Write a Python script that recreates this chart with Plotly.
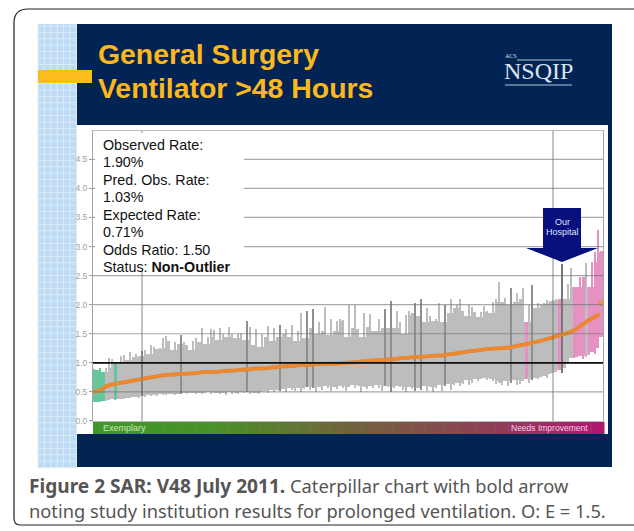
import plotly.graph_objects as go

W, H = 634, 531

upper = [
 .90,.88,.92,.85,.92,1.08,1.06,1.00,1.00,1.12,
 1.14,1.05,1.18,1.10,1.16,1.12,1.20,1.22,1.15,1.30,
 1.28,1.24,1.25,1.42,1.46,1.38,1.22,1.35,1.33,1.48,
 1.36,1.30,1.22,1.38,1.42,1.35,1.60,1.32,1.44,1.58,
 1.56,1.40,1.60,1.50,1.45,1.62,1.50,1.42,1.50,1.52,
 1.40,1.72,1.62,1.30,1.58,1.28,1.50,1.45,1.63,1.38,
 1.60,1.45,1.65,1.50,1.58,1.45,1.65,1.38,1.55,1.85,
 1.42,1.90,1.60,1.92,1.50,1.70,1.55,1.96,1.48,1.75,
 1.55,1.72,1.76,1.74,1.45,2.00,1.60,2.00,1.58,1.45,
 1.85,1.62,1.84,1.55,1.55,1.75,1.60,1.92,1.60,2.06,
 1.60,1.90,1.70,1.50,1.82,1.90,1.85,2.03,1.80,2.10,
 1.70,1.94,1.80,1.72,1.75,2.03,1.70,2.00,1.85,2.10,
 1.95,2.00,2.10,1.90,1.80,2.00,1.96,1.88,1.78,1.88,
 1.98,1.90,1.85,2.05,2.10,2.39,2.05,2.12,2.00,2.29,
 2.05,2.20,2.10,2.28,1.70,2.00,2.34,1.95,2.03,2.00,
 2.03,2.08,2.06,2.08,2.10,2.10,2.70,2.10,2.36,2.63,
 2.30,2.30,2.48,2.48,2.72,2.30,2.74,2.90,3.28,2.92,
]
lower = [
 .33,.32,.33,.34,.35,.36,.37,.36,.37,.38,
 .38,.40,.39,.41,.42,.40,.43,.41,.44,.43,
 .44,.43,.46,.45,.44,.46,.47,.45,.46,.47,
 .48,.46,.48,.49,.47,.48,.46,.48,.50,.47,
 .48,.49,.47,.48,.45,.50,.46,.49,.47,.50,
 .48,.50,.47,.49,.48,.46,.50,.52,.48,.53,
 .50,.54,.52,.55,.50,.56,.54,.52,.57,.50,
 .55,.58,.53,.56,.50,.58,.54,.60,.56,.52,
 .58,.55,.60,.56,.52,.58,.62,.56,.60,.50,
 .58,.55,.60,.57,.62,.56,.52,.60,.58,.50,
 .56,.60,.58,.54,.50,.58,.55,.52,.56,.53,
 .60,.52,.58,.50,.56,.62,.52,.60,.64,.53,
 .62,.66,.60,.64,.70,.62,.66,.72,.68,.72,
 .74,.70,.72,.68,.64,.66,.62,.68,.60,.66,
 .70,.62,.64,.68,.72,.66,.70,.74,.72,.76,
 .78,.74,.80,.82,.85,.88,.82,.92,1.00,1.08,
 1.08,1.10,1.12,1.06,1.10,1.14,1.18,1.16,1.25,1.45,
]
observed = [
 .50,.51,.53,.57,.60,.62,.63,.64,.65,.66,
 .67,.68,.69,.70,.71,.72,.73,.74,.75,.75,
 .76,.77,.78,.79,.79,.80,.80,.80,.81,.81,
 .81,.82,.82,.82,.83,.83,.84,.84,.84,.85,
 .85,.85,.85,.86,.86,.86,.87,.87,.88,.88,
 .88,.89,.89,.90,.90,.90,.90,.91,.91,.92,
 .92,.93,.93,.94,.94,.95,.95,.95,.96,.96,
 .96,.97,.97,.97,.98,.98,.98,.98,.98,.98,
 .98,.99,.99,1.00,1.00,1.01,1.01,1.01,1.02,1.02,
 1.03,1.03,1.04,1.04,1.04,1.05,1.05,1.05,1.06,1.06,
 1.07,1.07,1.08,1.08,1.09,1.09,1.10,1.10,1.10,1.11,
 1.11,1.11,1.12,1.12,1.12,1.13,1.13,1.14,1.14,1.15,
 1.16,1.17,1.17,1.18,1.19,1.20,1.20,1.21,1.22,1.23,
 1.23,1.24,1.24,1.25,1.25,1.25,1.26,1.26,1.26,1.27,
 1.28,1.29,1.30,1.31,1.32,1.33,1.34,1.36,1.37,1.38,
 1.40,1.41,1.43,1.44,1.46,1.47,1.49,1.50,1.52,1.54,
 1.56,1.60,1.63,1.67,1.71,1.74,1.77,1.80,1.83,None,
]
hospital = list(range(len(upper)))
top_outlier_hospital = [169]
top_outlier_value = [2.03]

green_bars = [0, 1, 2, 3, 7]
pink_bars = [144, 155, 160, 161, 162, 163, 165, 166, 167, 168, 169]
dark_bars = [16, 29, 51, 62, 71, 73, 97, 99, 107, 109, 117, 139, 146, 156]

ytick_vals = [0, .5, 1, 1.5, 2, 2.5, 3, 3.5, 4, 4.5]
vertical_grid_hospitals = [16.33, 153.33]

title_lines = ["General Surgery", "Ventilator >48 Hours"]
stat_lines = ["Observed Rate:", "1.90%", "Pred. Obs. Rate:", "1.03%", "Expected Rate:",
              "0.71%", "Odds Ratio: 1.50", "Status: <b>Non-Outlier</b>"]
caption_lines = ['<b><span style="font-size:19.1px">Figure 2 SAR: V48 July 2011.</span></b> Caterpillar chart with bold arrow',
                 "noting study institution results for prolonged ventilation. O: E = 1.5."]

# ---- pixel helpers for page decoration
px = lambda v: v / W
py = lambda v: 1 - v * 1.0095 / H
NAVY = "#012454"
shapes, ann = [], []

def rect(x0, y0, x1, y1, color, layer="below"):
    shapes.append(dict(type="rect", xref="paper", yref="paper", x0=px(x0), x1=px(x1),
                       y0=py(y0), y1=py(y1), fillcolor=color, line_width=0, layer=layer))

def seg(x0, y0, x1, y1, color, w, layer="below"):
    shapes.append(dict(type="line", xref="paper", yref="paper", x0=px(x0), x1=px(x1),
                       y0=py(y0), y1=py(y1), line=dict(color=color, width=w), layer=layer))

def text(x, y, s, size, color, anchor="left", family="Liberation Sans"):
    ann.append(dict(xref="paper", yref="paper", x=px(x), y=py(y), text=s, showarrow=False,
                    xanchor=anchor, yanchor="middle", align=anchor, borderpad=0, borderwidth=0,
                    font=dict(size=size, color=color, family=family)))

# slide backgrounds
rect(38, 24, 77, 467, "#bddcf4")
for i in range(7):
    seg(38 + i * 6.4, 24, 38 + i * 6.4, 467, "#dcebf8", 1)
for i in range(70):
    seg(38, 26 + i * 6.4, 77, 26 + i * 6.4, "#dcebf8", 1)
rect(77, 24, 612, 467, NAVY)
rect(77, 125, 608, 434, "white")
rect(38, 70, 92, 83, "#fbbd1e")

# gradient band
stops = [(0, (62, 152, 40)), (.22, (72, 146, 40)), (.5, (112, 100, 58)), (.8, (145, 60, 90)), (1, (176, 22, 112))]
N_BAND = 80
for i in range(N_BAND):
    t = i / (N_BAND - 1)
    for (a, ca), (b, cb) in zip(stops, stops[1:]):
        if a <= t <= b:
            f = (t - a) / (b - a)
            c = [round(ca[k] + (cb[k] - ca[k]) * f) for k in range(3)]
            break
    x0 = 93 + i * 511 / N_BAND
    rect(x0, 422, x0 + 511 / N_BAND + .5, 434, f"rgb({c[0]},{c[1]},{c[2]})")
text(103, 428, "Exemplary", 9, "#c9e8b8")
text(588, 428, "Needs Improvement", 8.5, "#f3cfe2", "right")

# page card border
shapes.append(dict(type="path", xref="paper", yref="paper",
    path=f"M {px(640)} {py(9)} L {px(28)} {py(9)} Q {px(14)} {py(9)} {px(14)} {py(23)} "
         f"L {px(14)} {py(518)} Q {px(14)} {py(525)} {px(20)} {py(525)} L {px(640)} {py(525)}",
    line=dict(color="#222222", width=1.2), layer="below"))

# grid drawn through data coordinates
grid = "rgba(110,110,110,.6)"
for v in ytick_vals[1:]:
    shapes.append(dict(type="line", xref="x", yref="y", x0=0, x1=170, y0=v, y1=v,
                       line=dict(color=grid, width=1.2), layer="above"))
for v in vertical_grid_hospitals:
    shapes.append(dict(type="line", xref="x", yref="y domain", x0=v, x1=v, y0=0, y1=1,
                       line=dict(color="rgba(110,110,110,.7)", width=1.2), layer="above"))
shapes.append(dict(type="line", xref="x", yref="y", x0=0, x1=170, y0=1, y1=1,
                   line=dict(color="#111111", width=1.8), layer="above"))

# bars: solid body to neighbours' common range, then thin spike for each hospital's interval
colors = []
for i in hospital:
    if i in pink_bars:
        c = "#e592c3"
    elif i in green_bars:
        c = "#66c79c"
    elif i in dark_bars:
        c = "#8f8f8f"
    else:
        c = "#bdbdbd"
    colors.append(c)
colors[156] = "#777777"
body_top = [min(upper[max(i - 1, 0):i + 2]) for i in hospital]
body_bot = [max(lower[max(i - 1, 0):i + 2]) for i in hospital]
body_colors = ["#bdbdbd" if c in ("#8f8f8f", "#777777") else c for c in colors]
xs = [i + .5 for i in hospital]
fig = go.Figure()
fig.add_bar(x=xs, y=[u - l for u, l in zip(body_top, body_bot)], base=body_bot,
            width=1.02, marker=dict(color=body_colors, line_width=0), showlegend=False)
fig.add_bar(x=xs, y=[u - l for u, l in zip(upper, lower)], base=lower,
            width=.5, marker=dict(color=colors, line_width=0), showlegend=False)
fig.add_scatter(x=xs, y=observed, mode="lines+markers",
                line=dict(color="#e07f36", width=3.8), marker=dict(size=3.5, color="#ee8a2c"),
                showlegend=False)
fig.add_scatter(x=[i + .5 for i in top_outlier_hospital], y=top_outlier_value, mode="markers",
                marker=dict(size=6, color="#e8934a"), showlegend=False)

# stats box, above the grid lines
shapes.append(dict(type="rect", xref="paper", yref="paper", x0=px(95), x1=px(244), y0=py(133), y1=py(270),
                   fillcolor="white", line_width=0, layer="above"))
for i, s in enumerate(stat_lines):
    text(102.5, 145 + i * 17.5, s, 14.3, "#111111")

# arrow
shapes.append(dict(type="path", xref="paper", yref="paper", fillcolor="#07107c", line_width=0, layer="above",
    path=f"M {px(543)} {py(208)} L {px(581)} {py(208)} L {px(581)} {py(248)} L {px(598)} {py(248)} "
         f"L {px(562)} {py(262)} L {px(526)} {py(248)} L {px(543)} {py(248)} Z"))
text(562, 222, "Our", 9, "#dfe6ff", "center")
text(562, 232, "Hospital", 9, "#dfe6ff", "center")

# slide title
text(98, 54, "<b>" + title_lines[0] + "</b>", 28.4, "#fdb81e")
text(98, 88, "<b>" + title_lines[1] + "</b>", 28.4, "#fdb81e")

# logo
text(538, 71, "NSQIP", 24, "#dbe4ef", "center", "Liberation Serif")
text(511, 56, "ACS", 6, "#dbe4ef", "center", "Liberation Serif")
seg(517, 60, 572, 60, "#b9c6d8", 1)
seg(505, 85, 572, 85, "#b9c6d8", 1)

# caption
text(29, 486, caption_lines[0], 18.3, "#555555", family="Noto Sans")
text(29, 511, caption_lines[1], 18.3, "#555555", family="Noto Sans")

fig.update_layout(
    width=W, height=H, margin=dict(l=0, r=0, t=0, b=0, pad=0), paper_bgcolor="white", plot_bgcolor="rgba(0,0,0,0)",
    barmode="overlay", bargap=0, showlegend=False, shapes=shapes, annotations=ann,
    xaxis=dict(domain=[px(93), px(603)], range=[0, 170], showgrid=False, zeroline=False, showticklabels=False,
               ticks="", showline=True, linecolor="#bbbbbb", mirror=True),
    yaxis=dict(domain=[py(421), py(131)], range=[0, 4.987], tickvals=ytick_vals, tickformat=".1f",
               showgrid=False, zeroline=False, ticks="outside", ticklen=3, tickcolor="#999999",
               tickfont=dict(size=8.5, color="#a0a0a0", family="Liberation Sans"),
               showline=True, linecolor="#a5a5a5", mirror=True),
)
fig.write_html("out.html", config=dict(displayModeBar=False), default_width=W, default_height=H,
               post_script="document.body.style.margin='0';document.documentElement.style.overflow='hidden';")
